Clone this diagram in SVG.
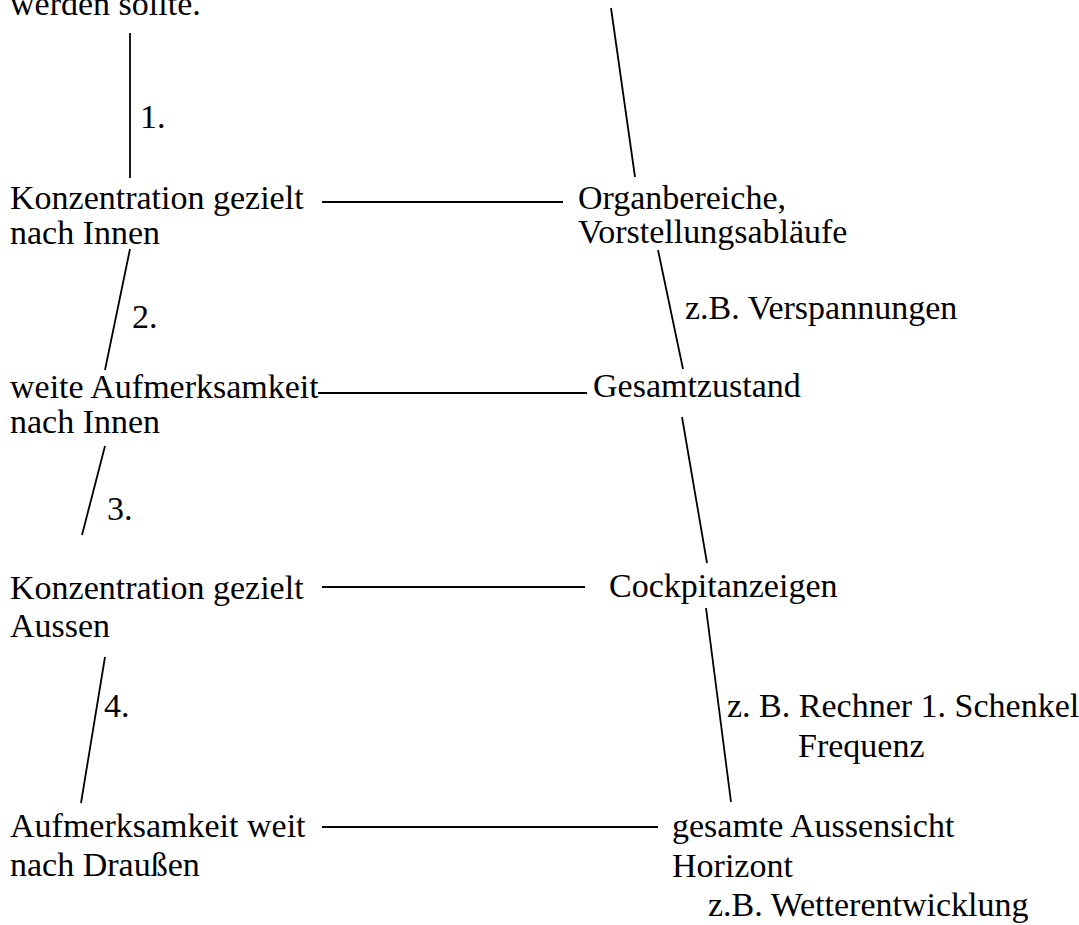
<svg xmlns="http://www.w3.org/2000/svg" width="1079" height="925" viewBox="0 0 1079 925">
<style>
  text { font-family: "Liberation Serif", "Times New Roman", serif; font-size: 34px; fill: #000; }
  .c line { stroke: #000; stroke-width: 1.8; fill: none; }
</style>
<rect width="1079" height="925" fill="#fff"/>
<g id="connectors" class="c">
  <line x1="130" y1="33" x2="130" y2="178"/>
  <line x1="130" y1="249" x2="105" y2="370"/>
  <line x1="105" y1="446" x2="82" y2="535"/>
  <line x1="105" y1="657" x2="81" y2="803"/>
  <line x1="611" y1="8" x2="635" y2="177"/>
  <line x1="658" y1="250" x2="683" y2="369"/>
  <line x1="682" y1="417" x2="707" y2="563"/>
  <line x1="706" y1="608" x2="731" y2="802"/>
  <line x1="322" y1="202" x2="563" y2="202"/>
  <line x1="318" y1="393" x2="587" y2="393"/>
  <line x1="322" y1="587" x2="585" y2="587"/>
  <line x1="322" y1="827" x2="658" y2="827"/>
</g>
<g id="edge-labels">
  <text x="140" y="128">1.</text>
  <text x="132" y="328">2.</text>
  <text x="107" y="520">3.</text>
  <text x="104" y="717">4.</text>
  <text x="685" y="319">z.B. Verspannungen</text>
  <text x="727" y="717">z. B. Rechner 1. Schenkel</text>
  <text x="798" y="757">Frequenz</text>
</g>
<g id="n-top"><text x="10" y="15">werden sollte.</text></g>
<g id="n-konz-innen"><text x="10" y="209">Konzentration gezielt</text><text x="10" y="244">nach Innen</text></g>
<g id="n-weit-innen"><text x="10" y="398">weite Aufmerksamkeit</text><text x="10" y="433">nach Innen</text></g>
<g id="n-konz-aussen"><text x="10" y="599">Konzentration gezielt</text><text x="10" y="637">Aussen</text></g>
<g id="n-weit-aussen"><text x="10" y="837">Aufmerksamkeit weit</text><text x="10" y="876">nach Draußen</text></g>
<g id="n-organ"><text x="578" y="209">Organbereiche,</text><text x="578" y="243">Vorstellungsabläufe</text></g>
<g id="n-gesamt"><text x="593" y="397">Gesamtzustand</text></g>
<g id="n-cockpit"><text x="609" y="597">Cockpitanzeigen</text></g>
<g id="n-aussensicht"><text x="672" y="837">gesamte Aussensicht</text><text x="672" y="877">Horizont</text><text x="708" y="916">z.B. Wetterentwicklung</text></g>
</svg>
